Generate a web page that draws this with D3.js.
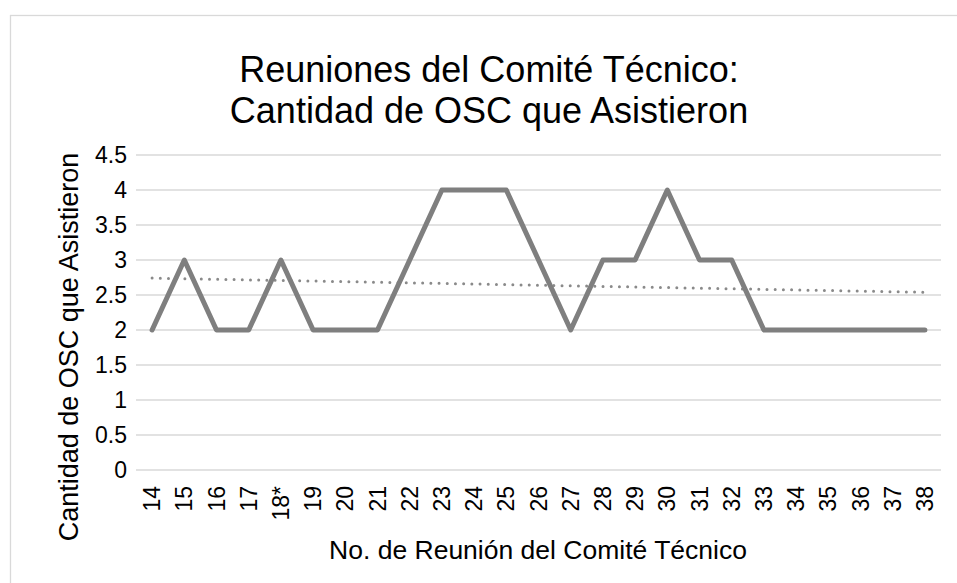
<!DOCTYPE html>
<html><head><meta charset="utf-8">
<script src="https://cdn.jsdelivr.net/npm/d3@7"></script>
<style>body{margin:0;background:#fff;} svg{display:block;font-family:"Liberation Sans",Arial,sans-serif;}</style>
</head><body>
<svg id="c" width="957" height="583"></svg>
<script>
const categories = ["14","15","16","17","18*","19","20","21","22","23","24","25","26","27","28","29","30","31","32","33","34","35","36","37","38"];
const values = [2,3,2,2,3,2,2,2,3,4,4,4,3,2,3,3,4,3,3,2,2,2,2,2,2];
const yTicks = [0,0.5,1,1.5,2,2.5,3,3.5,4,4.5];
const titleLines = ["Reuniones del Comité Técnico:","Cantidad de OSC que Asistieron"];
const xTitle = "No. de Reunión del Comité Técnico";
const yTitle = "Cantidad de OSC que Asistieron";

const svg = d3.select("#c");
svg.append("rect").attr("x",10.5).attr("y",15.5).attr("width",970).attr("height",600)
  .attr("fill","#fff").attr("stroke","#d9d9d9").attr("stroke-width",1.3);

const x = d3.scaleBand().domain(categories).range([136,941]);
const y = d3.scaleLinear().domain([0,4.5]).range([470,155]);
const cx = d => x(d) + x.bandwidth()/2;

// gridlines
svg.append("g").selectAll("line").data(yTicks).join("line")
  .attr("x1",136).attr("x2",941).attr("y1",d=>y(d)).attr("y2",d=>y(d))
  .attr("stroke","#d9d9d9").attr("stroke-width",1.5);

// y axis labels
const yAxis = d3.axisLeft(y).tickValues(yTicks).tickSize(0).tickPadding(9).tickFormat(d=>String(d));
const gy = svg.append("g").attr("transform","translate(136,0)").call(yAxis);
gy.select(".domain").remove();
gy.selectAll("text").attr("font-size",23).attr("fill","#000").attr("font-family","Liberation Sans, Arial, sans-serif");

// x axis labels
const xAxis = d3.axisBottom(x).tickSize(0).tickPadding(0);
const gx = svg.append("g").attr("transform","translate(0,470)").call(xAxis);
gx.select(".domain").remove();
gx.selectAll("text").attr("font-size",23).attr("fill","#000").attr("font-family","Liberation Sans, Arial, sans-serif")
  .attr("text-anchor","end").attr("dy","0.35em").attr("y",0)
  .attr("transform","translate(0,16) rotate(-90)").attr("x",0);

// trend line (least squares on the data)
const n = values.length;
const xs = d3.range(n);
const mx = d3.mean(xs), my = d3.mean(values);
const slope = d3.sum(xs, i => (i-mx)*(values[i]-my)) / d3.sum(xs, i => (i-mx)*(i-mx));
const icpt = my - slope*mx;
svg.append("line")
  .attr("x1",cx(categories[0])).attr("y1",y(icpt))
  .attr("x2",cx(categories[n-1])).attr("y2",y(icpt+slope*(n-1)))
  .attr("stroke","#8a8a8a").attr("stroke-width",3).attr("stroke-linecap","round")
  .attr("stroke-dasharray","0 8.2");

// data line
const line = d3.line().x((d,i)=>cx(categories[i])).y(d=>y(d));
svg.append("path").datum(values).attr("d",line).attr("fill","none")
  .attr("stroke","#7f7f7f").attr("stroke-width",5).attr("stroke-linejoin","round").attr("stroke-linecap","round");

// title
svg.append("g").selectAll("text").data(titleLines).join("text")
  .attr("x",489).attr("y",(d,i)=>82+i*41).attr("text-anchor","middle")
  .attr("font-size",36).attr("fill","#000").text(d=>d);

// axis titles
svg.append("text").attr("x",538).attr("y",559).attr("text-anchor","middle")
  .attr("font-size",26.5).attr("fill","#000").text(xTitle);
svg.append("text").attr("transform","translate(78,347) rotate(-90)").attr("text-anchor","middle")
  .attr("font-size",27).attr("fill","#000").text(yTitle);
</script>
</body></html>
